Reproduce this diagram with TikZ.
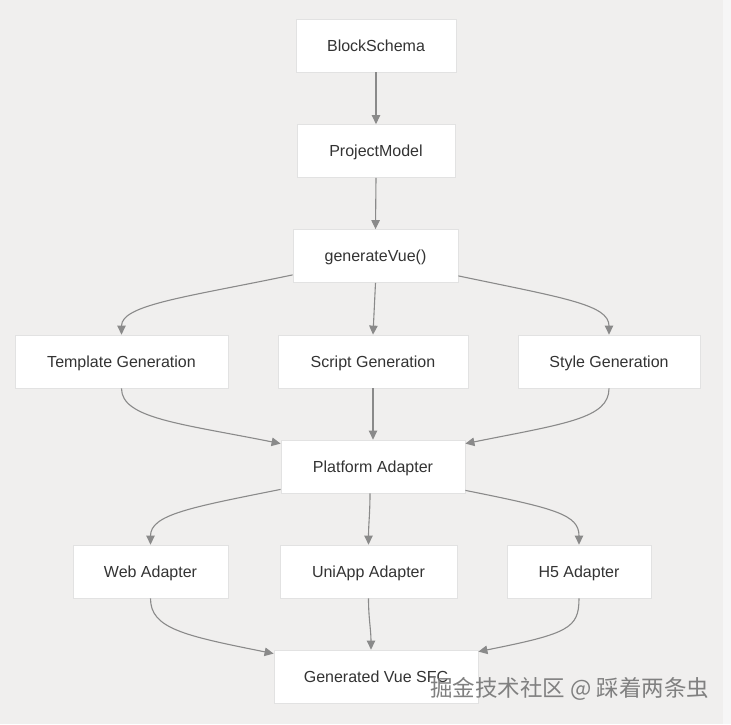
\documentclass[tikz,border=0pt]{standalone}
\usepackage{fontspec}
\setmainfont{Liberation Sans}
\newfontfamily\cjkfont{Noto Sans CJK SC}
\usetikzlibrary{arrows.meta,positioning}
\definecolor{bgc}{HTML}{F0EFEE}
\definecolor{stripc}{HTML}{F6F6F6}
\definecolor{edgec}{HTML}{8A8A8A}
\definecolor{boxline}{HTML}{E2E2E2}
\definecolor{txtc}{HTML}{333333}
\tikzset{
  box/.style={draw=boxline, line width=0.8pt, fill=white, minimum height=53pt,
    inner sep=0pt, text height=11.5pt, text depth=0pt,
    font=\fontsize{16}{19}\selectfont, text=txtc},
  arr/.style={draw=edgec, line width=1.1pt, -{Triangle[length=9pt,width=8.5pt]}},
}
\begin{document}
\begin{tikzpicture}[x=1pt,y=-1pt]
\fill[bgc] (0,0) rectangle (731,724);
\fill[stripc] (723,0) rectangle (731,724);
\useasboundingbox (0,0) rectangle (731,724);

\node[box, minimum width=160pt] (bs) at (376,45.5) {BlockSchema};
\node[box, minimum width=158pt] (pm) at (376,151) {ProjectModel};
\node[box, minimum width=165pt] (gen) at (375.5,256) {generateVue()};
\node[box, minimum width=213pt] (tmpl) at (121.5,361.5) {Template Generation};
\node[box, minimum width=190pt] (scr) at (373,361.5) {Script Generation};
\node[box, minimum width=182pt] (sty) at (609,361.5) {Style Generation};
\node[box, minimum width=184pt] (plat) at (373,466.5) {Platform Adapter};
\node[box, minimum width=155pt] (web) at (150.5,571.5) {Web Adapter};
\node[box, minimum width=177pt] (uni) at (368.5,571.5) {UniApp Adapter};
\node[box, minimum width=144pt] (h5) at (579,571.5) {H5 Adapter};
\node[box, minimum width=204pt] (sfc) at (376,676.5) {Generated Vue SFC};

\draw[arr] (bs.south) -- (pm.north);
\draw[arr] (pm.south) -- (gen.north);

\draw[arr] ([yshift=8pt]gen.south west) .. controls +(-105,22) and +(0,-30) .. (tmpl.north);
\draw[arr] (gen.south) -- (scr.north);
\draw[arr] ([yshift=7pt]gen.south east) .. controls +(105,22) and +(0,-30) .. (sty.north);

\draw[arr] (tmpl.south) .. controls +(0,30) and +(-100,-20) .. ([yshift=-4pt]plat.north west);
\draw[arr] (scr.south) -- (plat.north);
\draw[arr] (sty.south) .. controls +(0,30) and +(100,-20) .. ([yshift=-4pt]plat.north east);

\draw[arr] ([yshift=4pt]plat.south west) .. controls +(-90,18) and +(0,-30) .. (web.north);
\draw[arr] ([xshift=-3pt]plat.south) .. controls +(0,20) and +(0,-20) .. (uni.north);
\draw[arr] ([yshift=3pt]plat.south east) .. controls +(90,18) and +(0,-30) .. (h5.north);

\draw[arr] (web.south) .. controls +(0,30) and +(-90,-18) .. ([yshift=-4pt]sfc.north west);
\draw[arr] (uni.south) .. controls +(0,20) and +(0,-20) .. ([xshift=-5pt]sfc.north);
\draw[arr] (h5.south) .. controls +(0,30) and +(90,-18) .. ([yshift=-2pt]sfc.north east);

\node[font=\cjkfont\fontsize{22.5}{26}\selectfont, text=black!50, anchor=west, inner sep=0pt] (wm) at (430,689) {掘金技术社区 @ 踩着两条虫};
\end{tikzpicture}
\end{document}
